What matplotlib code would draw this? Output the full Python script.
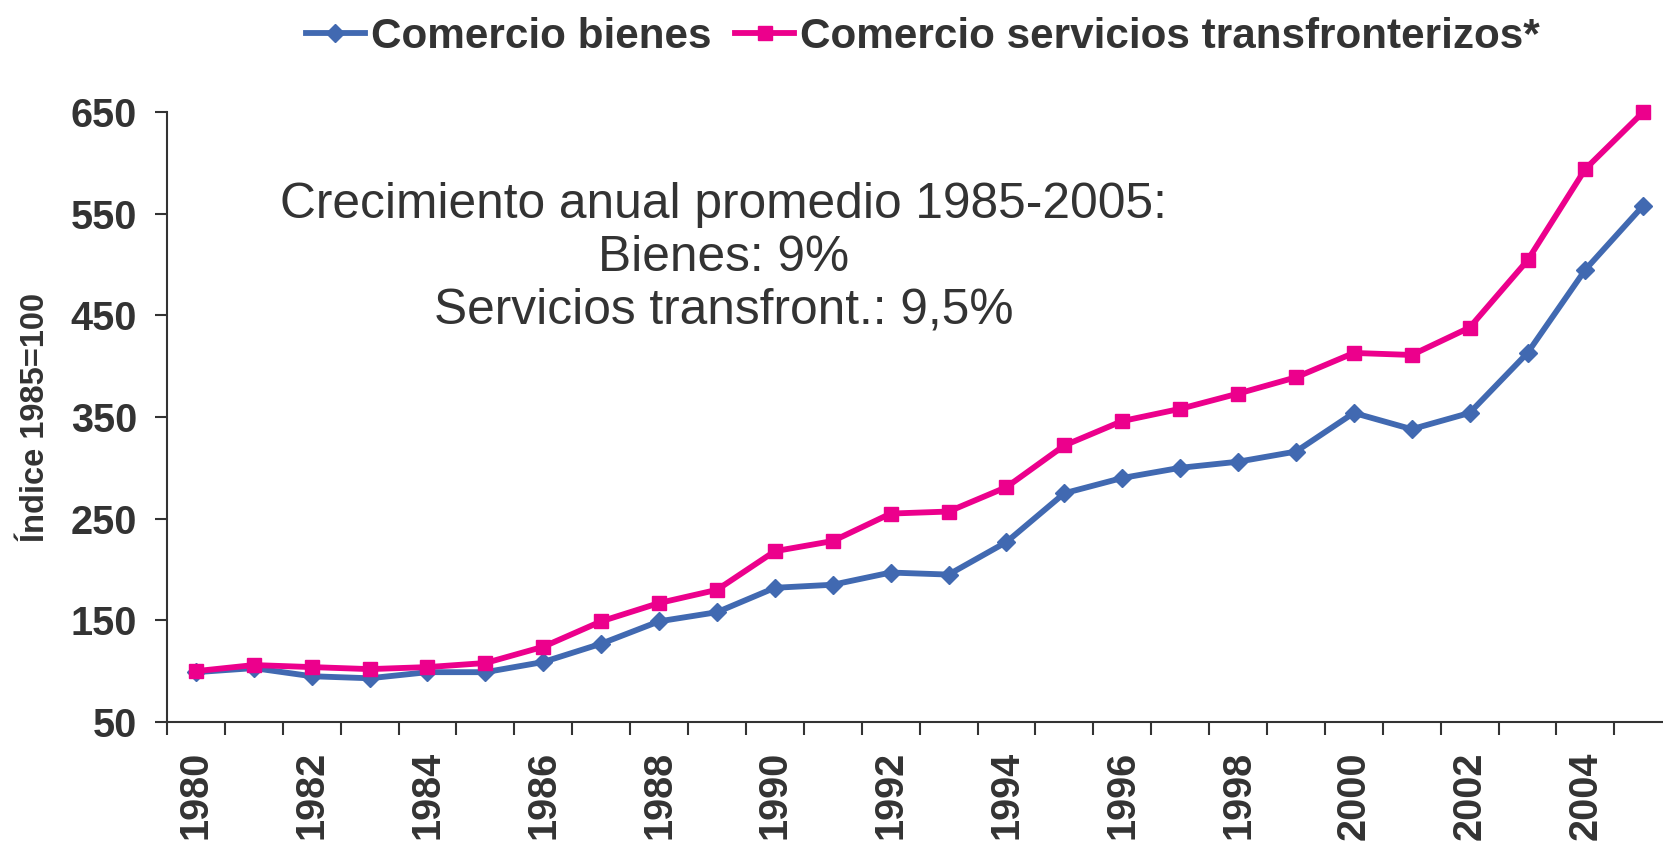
import matplotlib

matplotlib.use("Agg")

import matplotlib.pyplot as plt
from matplotlib.ticker import FixedLocator

YEARS = list(range(1980, 2006))
BIENES = [99, 103, 95, 93, 99, 99, 109, 127, 149, 158, 182, 185, 197, 195, 227,
          275, 290, 300, 306, 316, 354, 338, 354, 413, 495, 558]
SERVICIOS = [100, 106, 104, 102, 104, 108, 124, 149, 167, 180, 218, 228, 255, 257, 281,
             322, 346, 358, 373, 389, 413, 411, 438, 504, 594, 650]
Y_TICKS = [50, 150, 250, 350, 450, 550, 650]
NOTE_LINES = ["Crecimiento anual promedio 1985-2005:", "Bienes: 9%", "Servicios transfront.: 9,5%"]

BLUE = "#4169b1"
PINK = "#ec008c"
TEXT = "#333333"

plt.rcParams["font.family"] = ["Liberation Sans", "DejaVu Sans"]

fig = plt.figure(figsize=(16.63, 8.49), dpi=100)
ax = fig.add_axes([0.1004, 0.1496, 0.8996, 0.7185])

x = list(range(len(YEARS)))
ax.plot(x, BIENES, color=BLUE, linewidth=4.2, marker="D", markersize=9,
        label="Comercio bienes", clip_on=False, zorder=3)
ax.plot(x, SERVICIOS, color=PINK, linewidth=4.2, marker="s", markersize=10,
        label="Comercio servicios transfronterizos*", clip_on=False, zorder=3)

ax.set_ylim(50, 650)
ax.set_xlim(-0.5, 25.34)
ax.set_yticks(Y_TICKS)

# category axis: ticks between years, labels on even years
ax.xaxis.set_major_locator(FixedLocator([i - 0.5 for i in range(len(YEARS))]))
ax.xaxis.set_major_formatter(plt.NullFormatter())
ax.xaxis.set_minor_locator(FixedLocator([i for i, y in enumerate(YEARS) if y % 2 == 0]))
ax.set_xticklabels([str(y) for y in YEARS if y % 2 == 0], minor=True,
                   rotation=90, fontsize=28.5, fontweight="bold", color=TEXT)
ax.tick_params(axis="x", which="minor", length=0, pad=21)
ax.tick_params(axis="x", which="major", length=9.4, width=1.5, color=TEXT)
ax.tick_params(axis="y", length=8.6, width=1.5, color=TEXT, pad=13,
               labelsize=28.5, labelcolor=TEXT)
for label in ax.get_yticklabels():
    label.set_fontweight("bold")

for side in ("top", "right"):
    ax.spines[side].set_visible(False)
for side in ("left", "bottom"):
    ax.spines[side].set_color(TEXT)
    ax.spines[side].set_linewidth(1.5)

ax.set_ylabel("Índice 1985=100", fontsize=23.5, fontweight="bold", color=TEXT, labelpad=14)

ax.text(0.372, 0.761, "\n".join(NOTE_LINES), transform=ax.transAxes, ha="center", va="center",
        fontsize=35.7, color=TEXT, linespacing=1.18)

fig.legend(loc="center", bbox_to_anchor=(0.555, 0.957), ncols=2, frameon=False,
           prop={"weight": "bold", "size": 30.4}, handlelength=1.4,
           handletextpad=0.15, columnspacing=0.55, labelcolor=TEXT)

fig.savefig("out.png", dpi=100)
